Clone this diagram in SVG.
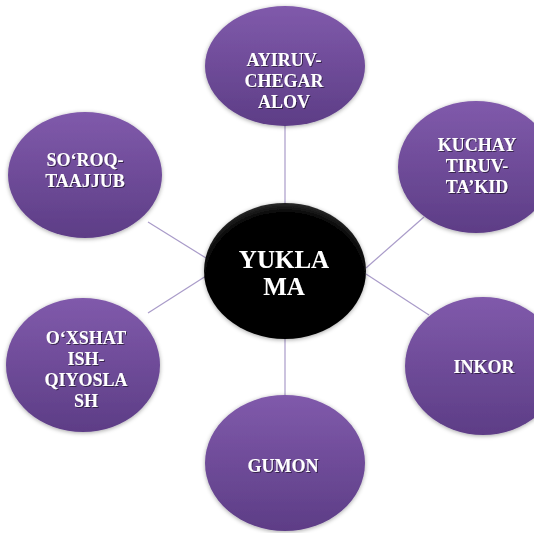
<svg xmlns="http://www.w3.org/2000/svg" width="534" height="533" viewBox="0 0 534 533">
  <defs>
    <linearGradient id="purple" x1="0" y1="0" x2="0" y2="1">
      <stop offset="0" stop-color="#805aab"/>
      <stop offset="1" stop-color="#5d3d86"/>
    </linearGradient>
    <radialGradient id="black" cx="0.5" cy="0.56" r="0.56">
      <stop offset="0.86" stop-color="#000"/>
      <stop offset="1" stop-color="#2a2a2a"/>
    </radialGradient>
    <filter id="shadow" x="-20%" y="-20%" width="140%" height="140%">
      <feGaussianBlur in="SourceAlpha" stdDeviation="2"/>
      <feOffset dx="0" dy="1" result="b"/>
      <feFlood flood-color="#000" flood-opacity="0.35"/>
      <feComposite in2="b" operator="in"/>
      <feMerge><feMergeNode/><feMergeNode in="SourceGraphic"/></feMerge>
    </filter>
    <filter id="glyph" x="-10%" y="-20%" width="120%" height="140%">
      <feGaussianBlur in="SourceAlpha" stdDeviation="0.6"/>
      <feOffset dx="0.5" dy="0.8" result="b"/>
      <feFlood flood-color="#000" flood-opacity="0.5"/>
      <feComposite in2="b" operator="in"/>
      <feMerge><feMergeNode/><feMergeNode in="SourceGraphic"/></feMerge>
    </filter>
  </defs>
  <style>
    .conn { stroke: #a99bc9; stroke-width: 1.2; fill: none; }
    .leaf { fill: url(#purple); filter: url(#shadow); }
    .hub { fill: url(#black); filter: url(#shadow); }
    text { font-family: "Liberation Serif", "Times New Roman", serif; font-weight: bold; fill: #ffffff; text-anchor: middle; filter: url(#glyph); }
    .lt { font-size: 18px; }
    .ht { font-size: 25px; }
  </style>
  <rect width="534" height="533" fill="#ffffff"/>

  <g id="connectors">
    <line class="conn" x1="285" y1="125" x2="285" y2="204"/>
    <line class="conn" x1="148" y1="222" x2="206" y2="258"/>
    <line class="conn" x1="424" y1="217" x2="366" y2="268"/>
    <line class="conn" x1="148" y1="313" x2="206" y2="276"/>
    <line class="conn" x1="366" y1="274" x2="429" y2="315"/>
    <line class="conn" x1="285" y1="338" x2="285" y2="396"/>
  </g>

  <g id="node-ayiruv">
    <ellipse class="leaf" cx="285" cy="66" rx="80" ry="60"/>
    <text class="lt" x="284" y="66">AYIRUV-</text>
    <text class="lt" x="284" y="87">CHEGAR</text>
    <text class="lt" x="284" y="108">ALOV</text>
  </g>

  <g id="node-soroq">
    <ellipse class="leaf" cx="85" cy="175" rx="77" ry="63"/>
    <text class="lt" x="85" y="166">SO‘ROQ-</text>
    <text class="lt" x="85" y="187">TAAJJUB</text>
  </g>

  <g id="node-kuchay">
    <ellipse class="leaf" cx="476" cy="167" rx="78" ry="66"/>
    <text class="lt" x="477" y="151">KUCHAY</text>
    <text class="lt" x="477" y="172">TIRUV-</text>
    <text class="lt" x="477" y="193">TA’KID</text>
  </g>

  <g id="node-yuklama">
    <ellipse class="hub" cx="285" cy="271" rx="81" ry="68"/>
    <text class="ht" x="284" y="268">YUKLA</text>
    <text class="ht" x="284" y="295">MA</text>
  </g>

  <g id="node-oxshatish">
    <ellipse class="leaf" cx="83" cy="365" rx="77" ry="67"/>
    <text class="lt" x="86" y="344">O‘XSHAT</text>
    <text class="lt" x="86" y="365">ISH-</text>
    <text class="lt" x="86" y="386">QIYOSLA</text>
    <text class="lt" x="86" y="407">SH</text>
  </g>

  <g id="node-inkor">
    <ellipse class="leaf" cx="483" cy="366" rx="78" ry="69"/>
    <text class="lt" x="484" y="373">INKOR</text>
  </g>

  <g id="node-gumon">
    <ellipse class="leaf" cx="285" cy="463" rx="80" ry="68"/>
    <text class="lt" x="283" y="472">GUMON</text>
  </g>
</svg>
